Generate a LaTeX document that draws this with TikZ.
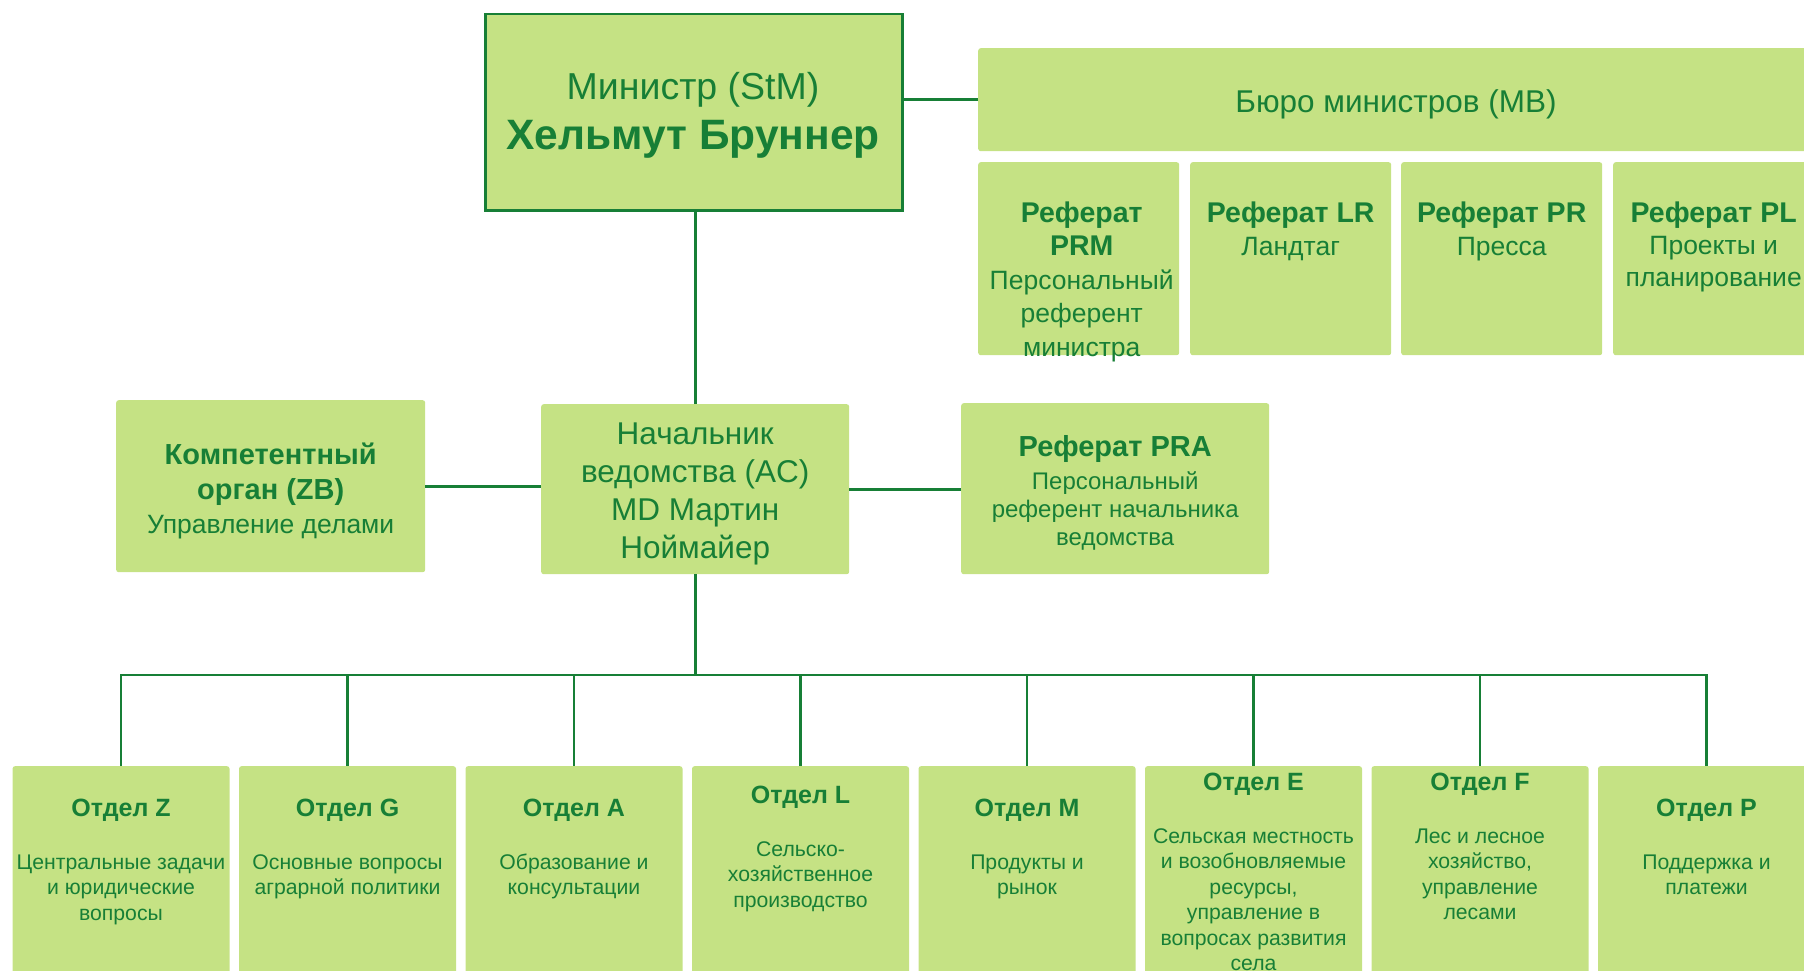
\documentclass[tikz,border=0pt]{standalone}
\usepackage{fontspec}
\setmainfont{Liberation Sans}
\definecolor{boxgreen}{HTML}{C5E284}
\definecolor{dkgreen}{HTML}{177F36}
\newcommand{\Fs}[2]{\fontsize{#1pt}{#2pt}\selectfont}
\newcommand{\Bf}[3]{{\fontsize{#1pt}{#2pt}\selectfont\bfseries #3}}
\begin{document}
\begin{tikzpicture}[x=1pt,y=-1pt,
  box/.style={fill=boxgreen, rounded corners=2.5pt, inner sep=0pt, anchor=north west},
  deptbox/.style={fill=boxgreen, rounded corners=2.5pt, inner sep=0pt, anchor=north,
    minimum width=217pt, minimum height=240pt},
  refbox/.style={box, minimum width=201pt, minimum height=193pt},
  txt/.style={text=dkgreen, align=center, anchor=north, inner sep=0pt},
  depttxt/.style={txt, font=\Fs{21.2}{25.5}},
  reftxt/.style={txt, font=\Fs{26.5}{33.5}},
  conn/.style={draw=dkgreen, line width=2.7pt, line join=miter}]
\useasboundingbox (0,0) rectangle (1804,971);
\clip (0,0) rectangle (1804,971);

% top level
\node[box, draw=dkgreen, line width=2.5pt, sharp corners, minimum width=417pt, minimum height=196pt] (min) at (484,13) {};
\node[txt, font=\Fs{37.5}{50}] (tmin) at (693,72) {Министр (StM)\\\Bf{42.5}{50}{Хельмут Бруннер}};

\node[box, minimum width=836pt, minimum height=103pt] (mb) at (978,48) {};
\node[txt, font=\Fs{31.5}{38}] (tmb) at (1396,89.5) {Бюро министров (MB)};

\node[refbox] (prm) at (978,162) {};
\node[refbox] (lr) at (1190,162) {};
\node[refbox] (pr) at (1401,162) {};
\node[refbox] (pl) at (1613,162) {};
\node[reftxt] (tprm) at ([xshift=3pt]prm.north |- 0,201.6) {\Bf{28.5}{33.5}{Реферат}\\\Bf{28.5}{33.5}{PRM}\\Персональный\\референт\\министра};
\node[reftxt] (tlr) at (lr.north |- 0,201.6) {\Bf{28.5}{33.5}{Реферат LR}\\Ландтаг};
\node[reftxt] (tpr) at (pr.north |- 0,201.6) {\Bf{28.5}{33.5}{Реферат PR}\\Пресса};
\node[reftxt, font=\Fs{26.5}{32}] (tpl) at (pl.north |- 0,201.6) {\Bf{28.5}{32}{Реферат PL}\\Проекты и\\планирование};

% middle level
\node[box, minimum width=309pt, minimum height=172pt] (zb) at (116,400) {};
\node[txt, font=\Fs{26.5}{34.5}] (tzb) at (zb.north |- 0,443) {\Bf{29}{34.5}{Компетентный}\\\Bf{29}{34.5}{орган (ZB)}\\Управление делами};

\node[box, minimum width=308pt, minimum height=170pt] (ac) at (541,404) {};
\node[txt, font=\Fs{31.5}{38}] (tac) at (ac.north |- 0,422.3) {Начальник\\ведомства (AC)\\MD Мартин\\Ноймайер};

\node[box, minimum width=308pt, minimum height=171pt] (pra) at (961,403) {};
\node[txt, font=\Fs{24}{28}] (tpra) at (pra.north |- 0,435) {\Bf{29}{28}{Реферат PRA}\\[5pt]Персональный\\референт начальника\\ведомства};

% departments
\node[deptbox] (dz) at (121,766) {};
\node[deptbox] (dg) at (347.5,766) {};
\node[deptbox] (da) at (574,766) {};
\node[deptbox] (dl) at (800.5,766) {};
\node[deptbox] (dm) at (1027,766) {};
\node[deptbox] (de) at (1253.5,766) {};
\node[deptbox] (df) at (1480,766) {};
\node[deptbox] (dp) at (1706.5,766) {};

\node[depttxt] (tdz) at (dz.north |- 0,798.5) {\Bf{25}{25.5}{Отдел Z}\\[27.5pt]Центральные задачи\\и юридические\\вопросы};
\node[depttxt] (tdg) at (dg.north |- 0,798.5) {\Bf{25}{25.5}{Отдел G}\\[27.5pt]Основные вопросы\\аграрной политики};
\node[depttxt] (tda) at (da.north |- 0,798.5) {\Bf{25}{25.5}{Отдел A}\\[27.5pt]Образование и\\консультации};
\node[depttxt] (tdl) at (dl.north |- 0,785.5) {\Bf{25}{25.5}{Отдел L}\\[27.5pt]Сельско-\\хозяйственное\\производство};
\node[depttxt] (tdm) at (dm.north |- 0,798.5) {\Bf{25}{25.5}{Отдел M}\\[27.5pt]Продукты и\\рынок};
\node[depttxt] (tde) at (de.north |- 0,772.5) {\Bf{25}{25.5}{Отдел E}\\[27.5pt]Сельская местность\\и возобновляемые\\ресурсы,\\управление в\\вопросах развития\\села};
\node[depttxt] (tdf) at (df.north |- 0,772.5) {\Bf{25}{25.5}{Отдел F}\\[27.5pt]Лес и лесное\\хозяйство,\\управление\\лесами};
\node[depttxt] (tdp) at (dp.north |- 0,798.5) {\Bf{25}{25.5}{Отдел P}\\[27.5pt]Поддержка и\\платежи};

% connectors
\draw[conn] (mb.west) -- (mb.west -| min.east);
\draw[conn] (ac.north) -- (ac.north |- min.south);
\draw[conn] (zb.east) -- (zb.east -| ac.west);
\draw[conn] (ac.east) -- (ac.east -| pra.west);
\coordinate (bus) at (695,675);
\draw[conn] (ac.south) -- (ac.south |- bus);
\draw[conn] (dz.north) -- (dz.north |- bus) -- (dp.north |- bus) -- (dp.north);
\foreach \d in {dg,da,dl,dm,de,df}
  \draw[conn] (\d.north |- bus) -- (\d.north);
\end{tikzpicture}
\end{document}
